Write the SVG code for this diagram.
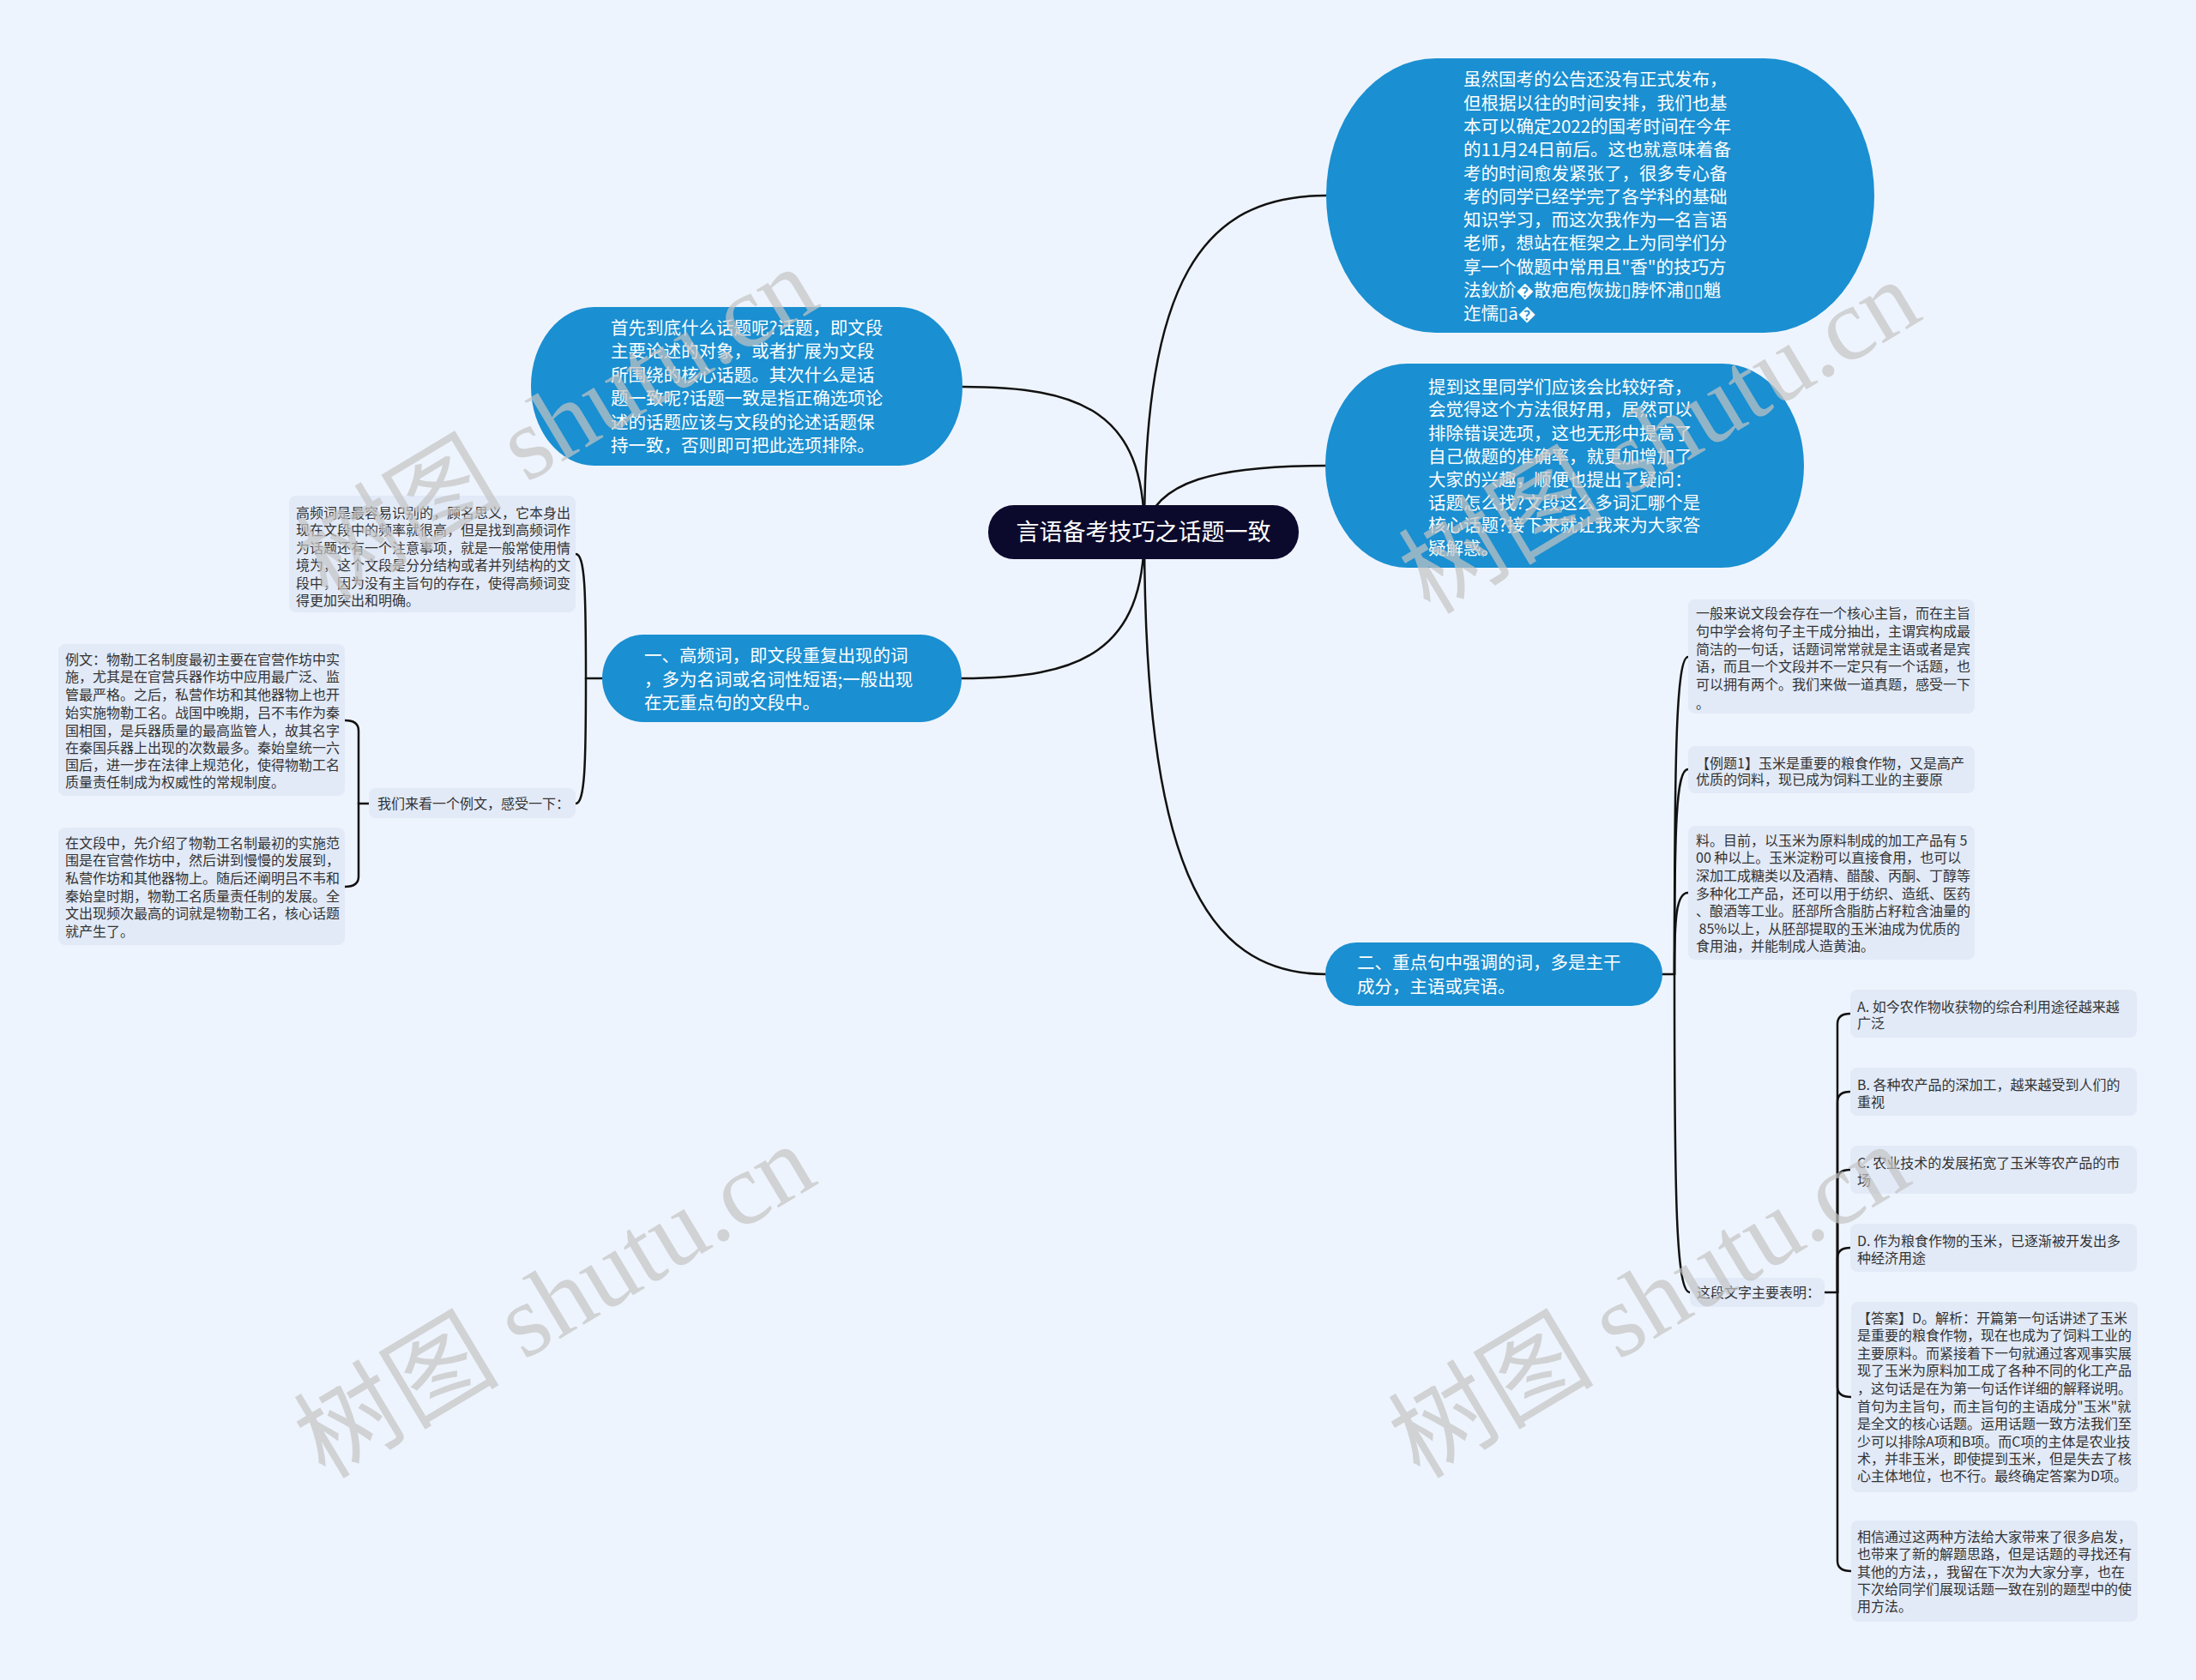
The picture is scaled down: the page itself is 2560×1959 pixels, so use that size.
<svg xmlns="http://www.w3.org/2000/svg" width="2560" height="1959" viewBox="0 0 2560 1959">
<style>
.bg{fill:#eef4fd}
.big{fill:#1a8fd1}
.box{fill:#e2eaf8}
.bt{font-family:"Noto Sans CJK SC","Noto Sans",sans-serif;font-size:20.5px;fill:#ffffff}
.st{font-family:"Noto Sans CJK SC","Noto Sans",sans-serif;font-size:16px;fill:#333333}
.ln{fill:none;stroke:#111111;stroke-width:2.5;stroke-linecap:round}
.wm{font-family:"Liberation Serif","Noto Sans CJK SC",serif;font-size:120px;fill:#c4c4c4;opacity:0.7}
.tofu{font-family:"DejaVu Sans",sans-serif}
</style>
<rect class="bg" x="0" y="0" width="2560" height="1959"/>

<g id="connectors">
<path class="ln" d="M1122 451 C1260 451 1334 480 1334 620"/>
<path class="ln" d="M1121 791 C1260 791 1334 760 1334 620"/>
<path class="ln" d="M1334 620 C1334 330 1400 228 1546 228"/>
<path class="ln" d="M1334 620 C1345 560 1420 543 1546 543"/>
<path class="ln" d="M1334 620 C1334 1000 1400 1136 1546 1136"/>
<path class="ln" d="M702 791 L683 791"/>
<path class="ln" d="M683 791 C683 690 682 646 671 646"/>
<path class="ln" d="M683 791 C683 890 682 937 671 937"/>
<path class="ln" d="M430 937 L418 937"/>
<path class="ln" d="M418 937 L418 852 Q418 840 402 840"/>
<path class="ln" d="M418 937 L418 1022 Q418 1034 402 1034"/>
<path class="ln" d="M1938 1136 L1952 1136"/>
<path class="ln" d="M1952 1136 C1952 880 1954 766 1968 766"/>
<path class="ln" d="M1952 1136 C1952 960 1954 897 1968 897"/>
<path class="ln" d="M1952 1136 C1952 1070 1954 1041 1968 1041"/>
<path class="ln" d="M1952 1136 C1952 1400 1954 1507 1970 1507"/>
<path class="ln" d="M2127 1507 L2142 1507"/>
<path class="ln" d="M2142 1507 L2142 1194 Q2142 1182 2157 1182"/>
<path class="ln" d="M2142 1507 L2142 1285 Q2142 1273 2157 1273"/>
<path class="ln" d="M2142 1507 L2142 1376 Q2142 1364 2157 1364"/>
<path class="ln" d="M2142 1507 L2142 1467 Q2142 1455 2157 1455"/>
<path class="ln" d="M2142 1507 L2142 1617 Q2142 1629 2158 1629"/>
<path class="ln" d="M2142 1507 L2142 1820 Q2142 1832 2158 1832"/>
</g>

<g id="center">
<rect x="1152" y="589" width="362" height="63" rx="30" ry="31" fill="#0c0a2c"/>
<text x="1333" y="630" text-anchor="middle" style="font-family:'Noto Sans CJK SC',sans-serif;font-size:27px;fill:#ffffff">言语备考技巧之话题一致</text>
</g>

<g id="node-r1">
<rect class="big" x="1546" y="68" width="639" height="320" rx="128" ry="160"/>
<text class="bt">
<tspan x="1706" y="100">虽然国考的公告还没有正式发布，</tspan>
<tspan x="1706" y="128">但根据以往的时间安排，我们也基</tspan>
<tspan x="1706" y="155">本可以确定2022的国考时间在今年</tspan>
<tspan x="1706" y="182">的11月24日前后。这也就意味着备</tspan>
<tspan x="1706" y="210">考的时间愈发紧张了，很多专心备</tspan>
<tspan x="1706" y="237">考的同学已经学完了各学科的基础</tspan>
<tspan x="1706" y="264">知识学习，而这次我作为一名言语</tspan>
<tspan x="1706" y="291">老师，想站在框架之上为同学们分</tspan>
<tspan x="1706" y="319">享一个做题中常用且"香"的技巧方</tspan>
<tspan x="1706" y="346">法鈥斺&#xFFFD;散疤庖恢拢<tspan class="tofu">▯</tspan>脖怀浦<tspan class="tofu">▯▯</tspan>魈</tspan>
<tspan x="1706" y="373">迮懦<tspan class="tofu">▯</tspan>ā&#xFFFD;</tspan>
</text>
</g>

<g id="node-r2">
<rect class="big" x="1545" y="424" width="558" height="238" rx="96" ry="119"/>
<text class="bt">
<tspan x="1665" y="459">提到这里同学们应该会比较好奇，</tspan>
<tspan x="1665" y="485">会觉得这个方法很好用，居然可以</tspan>
<tspan x="1665" y="513">排除错误选项，这也无形中提高了</tspan>
<tspan x="1665" y="540">自己做题的准确率，就更加增加了</tspan>
<tspan x="1665" y="567">大家的兴趣，顺便也提出了疑问：</tspan>
<tspan x="1665" y="594">话题怎么找?文段这么多词汇哪个是</tspan>
<tspan x="1665" y="620">核心话题?接下来就让我来为大家答</tspan>
<tspan x="1665" y="647">疑解惑。</tspan>
</text>
</g>

<g id="node-l1">
<rect class="big" x="619" y="358" width="503" height="185" rx="74" ry="92"/>
<text class="bt">
<tspan x="712" y="390">首先到底什么话题呢?话题，即文段</tspan>
<tspan x="712" y="417">主要论述的对象，或者扩展为文段</tspan>
<tspan x="712" y="445">所围绕的核心话题。其次什么是话</tspan>
<tspan x="712" y="472">题一致呢?话题一致是指正确选项论</tspan>
<tspan x="712" y="500">述的话题应该与文段的论述话题保</tspan>
<tspan x="712" y="527">持一致，否则即可把此选项排除。</tspan>
</text>
</g>

<g id="node-one">
<rect class="big" x="702" y="740" width="419" height="102" rx="48" ry="51"/>
<text class="bt">
<tspan x="751" y="772">一、高频词，即文段重复出现的词</tspan>
<tspan x="751" y="800">，多为名词或名词性短语;一般出现</tspan>
<tspan x="751" y="827">在无重点句的文段中。</tspan>
</text>
</g>

<g id="node-two">
<rect class="big" x="1545" y="1099" width="393" height="74" rx="36" ry="37"/>
<text class="bt">
<tspan x="1582" y="1130">二、重点句中强调的词，多是主干</tspan>
<tspan x="1582" y="1158">成分，主语或宾语。</tspan>
</text>
</g>

<g id="s1">
<rect class="box" x="337" y="578" width="334" height="136" rx="8"/>
<text class="st">
<tspan x="345" y="604">高频词是最容易识别的，顾名思义，它本身出</tspan>
<tspan x="345" y="624">现在文段中的频率就很高，但是找到高频词作</tspan>
<tspan x="345" y="645">为话题还有一个注意事项，就是一般常使用情</tspan>
<tspan x="345" y="665">境为，这个文段是分分结构或者并列结构的文</tspan>
<tspan x="345" y="686">段中，因为没有主旨句的存在，使得高频词变</tspan>
<tspan x="345" y="706">得更加突出和明确。</tspan>
</text>
</g>

<g id="s2">
<rect class="box" x="430" y="919" width="241" height="35" rx="8"/>
<text class="st" x="440" y="943">我们来看一个例文，感受一下：</text>
</g>

<g id="s3">
<rect class="box" x="68" y="751" width="334" height="177" rx="8"/>
<text class="st">
<tspan x="76" y="775">例文：物勒工名制度最初主要在官营作坊中实</tspan>
<tspan x="76" y="795">施，尤其是在官营兵器作坊中应用最广泛、监</tspan>
<tspan x="76" y="816">管最严格。之后，私营作坊和其他器物上也开</tspan>
<tspan x="76" y="837">始实施物勒工名。战国中晚期，吕不韦作为秦</tspan>
<tspan x="76" y="858">国相国，是兵器质量的最高监管人，故其名字</tspan>
<tspan x="76" y="878">在秦国兵器上出现的次数最多。秦始皇统一六</tspan>
<tspan x="76" y="898">国后，进一步在法律上规范化，使得物勒工名</tspan>
<tspan x="76" y="918">质量责任制成为权威性的常规制度。</tspan>
</text>
</g>

<g id="s4">
<rect class="box" x="68" y="965" width="334" height="137" rx="8"/>
<text class="st">
<tspan x="76" y="989">在文段中，先介绍了物勒工名制最初的实施范</tspan>
<tspan x="76" y="1009">围是在官营作坊中，然后讲到慢慢的发展到，</tspan>
<tspan x="76" y="1030">私营作坊和其他器物上。随后还阐明吕不韦和</tspan>
<tspan x="76" y="1051">秦始皇时期，物勒工名质量责任制的发展。全</tspan>
<tspan x="76" y="1071">文出现频次最高的词就是物勒工名，核心话题</tspan>
<tspan x="76" y="1092">就产生了。</tspan>
</text>
</g>

<g id="rs1">
<rect class="box" x="1968" y="699" width="334" height="133" rx="8"/>
<text class="st">
<tspan x="1977" y="721">一般来说文段会存在一个核心主旨，而在主旨</tspan>
<tspan x="1977" y="742">句中学会将句子主干成分抽出，主谓宾构成最</tspan>
<tspan x="1977" y="763">简洁的一句话，话题词常常就是主语或者是宾</tspan>
<tspan x="1977" y="783">语，而且一个文段并不一定只有一个话题，也</tspan>
<tspan x="1977" y="804">可以拥有两个。我们来做一道真题，感受一下</tspan>
<tspan x="1977" y="826">。</tspan>
</text>
</g>

<g id="rs2">
<rect class="box" x="1968" y="870" width="334" height="55" rx="8"/>
<text class="st">
<tspan x="1977" y="896">【例题1】玉米是重要的粮食作物，又是高产</tspan>
<tspan x="1977" y="915">优质的饲料，现已成为饲料工业的主要原</tspan>
</text>
</g>

<g id="rs3">
<rect class="box" x="1968" y="963" width="334" height="156" rx="8"/>
<text class="st">
<tspan x="1977" y="986">料。目前，以玉米为原料制成的加工产品有 5</tspan>
<tspan x="1977" y="1006">00 种以上。玉米淀粉可以直接食用，也可以</tspan>
<tspan x="1977" y="1027">深加工成糖类以及酒精、醋酸、丙酮、丁醇等</tspan>
<tspan x="1977" y="1048">多种化工产品，还可以用于纺织、造纸、医药</tspan>
<tspan x="1977" y="1068">、酿酒等工业。胚部所含脂肪占籽粒含油量的</tspan>
<tspan x="1977" y="1089">&#160;85%以上，从胚部提取的玉米油成为优质的</tspan>
<tspan x="1977" y="1109">食用油，并能制成人造黄油。</tspan>
</text>
</g>

<g id="rs4">
<rect class="box" x="1970" y="1490" width="157" height="34" rx="8"/>
<text class="st" x="1978" y="1513">这段文字主要表明：</text>
</g>

<g id="opt-a">
<rect class="box" x="2157" y="1154" width="334" height="56" rx="8"/>
<text class="st"><tspan x="2165" y="1180">A. 如今农作物收获物的综合利用途径越来越</tspan><tspan x="2165" y="1199">广泛</tspan></text>
</g>
<g id="opt-b">
<rect class="box" x="2157" y="1245" width="334" height="56" rx="8"/>
<text class="st"><tspan x="2165" y="1271">B. 各种农产品的深加工，越来越受到人们的</tspan><tspan x="2165" y="1291">重视</tspan></text>
</g>
<g id="opt-c">
<rect class="box" x="2157" y="1336" width="334" height="56" rx="8"/>
<text class="st"><tspan x="2165" y="1362">C. 农业技术的发展拓宽了玉米等农产品的市</tspan><tspan x="2165" y="1382">场</tspan></text>
</g>
<g id="opt-d">
<rect class="box" x="2157" y="1427" width="334" height="56" rx="8"/>
<text class="st"><tspan x="2165" y="1453">D. 作为粮食作物的玉米，已逐渐被开发出多</tspan><tspan x="2165" y="1473">种经济用途</tspan></text>
</g>

<g id="answer">
<rect class="box" x="2158" y="1518" width="334" height="222" rx="8"/>
<text class="st">
<tspan x="2165" y="1543">【答案】D。解析：开篇第一句话讲述了玉米</tspan>
<tspan x="2165" y="1563">是重要的粮食作物，现在也成为了饲料工业的</tspan>
<tspan x="2165" y="1584">主要原料。而紧接着下一句就通过客观事实展</tspan>
<tspan x="2165" y="1604">现了玉米为原料加工成了各种不同的化工产品</tspan>
<tspan x="2165" y="1625">，这句话是在为第一句话作详细的解释说明。</tspan>
<tspan x="2165" y="1646">首句为主旨句，而主旨句的主语成分"玉米"就</tspan>
<tspan x="2165" y="1666">是全文的核心话题。运用话题一致方法我们至</tspan>
<tspan x="2165" y="1687">少可以排除A项和B项。而C项的主体是农业技</tspan>
<tspan x="2165" y="1707">术，并非玉米，即使提到玉米，但是失去了核</tspan>
<tspan x="2165" y="1727">心主体地位，也不行。最终确定答案为D项。</tspan>
</text>
</g>

<g id="final">
<rect class="box" x="2158" y="1773" width="334" height="118" rx="8"/>
<text class="st">
<tspan x="2165" y="1798">相信通过这两种方法给大家带来了很多启发，</tspan>
<tspan x="2165" y="1818">也带来了新的解题思路，但是话题的寻找还有</tspan>
<tspan x="2165" y="1839">其他的方法，，我留在下次为大家分享，也在</tspan>
<tspan x="2165" y="1859">下次给同学们展现话题一致在别的题型中的使</tspan>
<tspan x="2165" y="1879">用方法。</tspan>
</text>
</g>

<g id="watermarks">
<text class="wm" text-anchor="middle" transform="translate(650 495) rotate(-31)" x="0" y="40">树图 shutu.cn</text>
<text class="wm" text-anchor="middle" transform="translate(1935 510) rotate(-31)" x="0" y="40">树图 shutu.cn</text>
<text class="wm" text-anchor="middle" transform="translate(647 1518) rotate(-31)" x="0" y="40">树图 shutu.cn</text>
<text class="wm" text-anchor="middle" transform="translate(1923 1518) rotate(-31)" x="0" y="40">树图 shutu.cn</text>
</g>
</svg>
